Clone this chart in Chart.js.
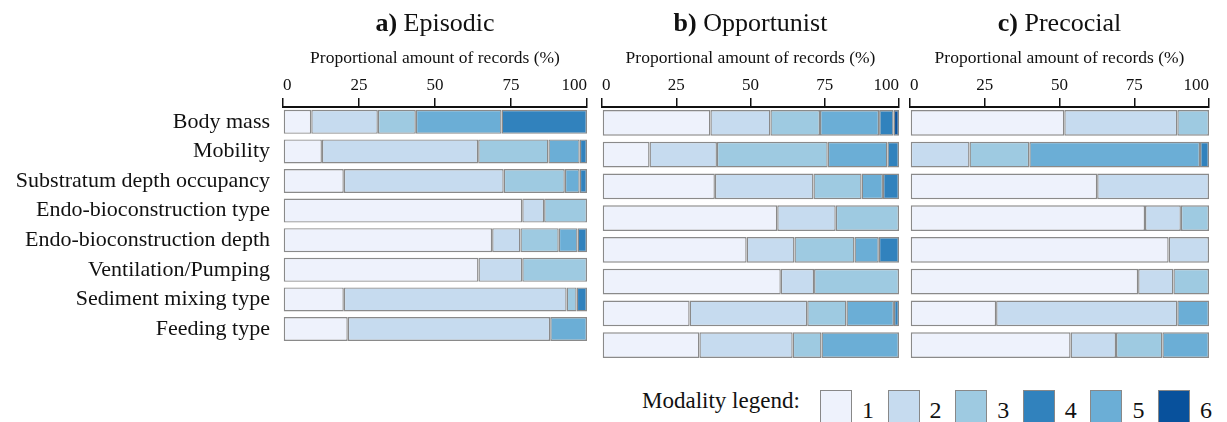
<!DOCTYPE html>
<html>
<head>
<meta charset="utf-8">
<title>Modality profiles</title>
<script src="https://cdn.jsdelivr.net/npm/chart.js@4.4.1/dist/chart.umd.min.js"></script>
<style>
    html, body {
        margin: 0;
        padding: 0;
        background: #ffffff;
        overflow: hidden;
        width: 1227px;
        height: 422px;
    }
    .panel {
        position: absolute;
        top: 0;
    }
    #legend {
        position: absolute;
        left: 0;
        top: 390px;
        width: 1227px;
        height: 40px;
        font-family: 'Liberation Serif', 'DejaVu Serif', serif;
        color: #111;
        white-space: nowrap;
    }
    #legend .label {
        position: absolute;
        top: -1px;
        font-size: 23px;
        line-height: 23px;
    }
    #legend .box {
        position: absolute;
        top: 0;
        width: 30px;
        height: 40px;
        border: 1px solid #888;
    }
    #legend .num {
        position: absolute;
        top: 8px;
        font-size: 24px;
        line-height: 24px;
    }
</style>
</head>
<body>
<canvas id="episodicChart" class="panel" width="620" height="370" style="left:0px"></canvas>
<canvas id="opportunistChart" class="panel" width="360" height="370" style="left:570px"></canvas>
<canvas id="precocialChart" class="panel" width="347" height="370" style="left:880px"></canvas>
<div id="legend"></div>

<script>
// Traits (rows, top to bottom)
const categories = [
    'Body mass',
    'Mobility',
    'Substratum depth occupancy',
    'Endo-bioconstruction type',
    'Endo-bioconstruction depth',
    'Ventilation/Pumping',
    'Sediment mixing type',
    'Feeding type'
];

const modalities = ['1', '2', '3', '4', '5', '6'];
const xTicks = [0, 25, 50, 75, 100];

// a) Episodic - % of records per modality
const episodic1 = [9.3, 12.8, 20.0, 78.7, 68.8, 64.3, 20.0, 21.3];
const episodic2 = [21.9, 51.4, 52.6, 7.2, 9.3, 14.4, 73.3, 66.6];
const episodic3 = [12.5, 23.1, 20.1, 14.1, 12.6, 21.3, 3.3, 0];
const episodic4 = [28.1, 2.4, 2.4, 0, 3.1, 0, 3.4, 0];
const episodic5 = [28.2, 10.3, 4.9, 0, 6.2, 0, 0, 12.1];
const episodic6 = [0, 0, 0, 0, 0, 0, 0, 0];

// b) Opportunist
const opportunist1 = [36.5, 16.0, 38.0, 59.0, 48.7, 60.2, 29.5, 32.8];
const opportunist2 = [20.2, 22.7, 33.2, 19.7, 16.1, 11.2, 39.6, 31.4];
const opportunist3 = [16.7, 37.3, 16.2, 21.3, 20.2, 28.6, 13.2, 9.7];
const opportunist4 = [4.9, 3.9, 5.4, 0, 6.8, 0, 1.7, 0];
const opportunist5 = [19.9, 20.1, 7.2, 0, 8.2, 0, 16.0, 26.1];
const opportunist6 = [1.8, 0, 0, 0, 0, 0, 0, 0];

// c) Precocial
const precocial1 = [51.6, 0, 62.6, 78.6, 86.5, 76.3, 28.8, 53.7];
const precocial2 = [37.8, 19.9, 37.4, 12.0, 13.5, 11.8, 60.6, 15.2];
const precocial3 = [10.6, 20.0, 0, 9.4, 0, 11.9, 0, 15.5];
const precocial4 = [0, 3.0, 0, 0, 0, 0, 0, 0];
const precocial5 = [0, 57.1, 0, 0, 0, 0, 10.6, 15.6];
const precocial6 = [0, 0, 0, 0, 0, 0, 0, 0];

// Colours per modality (legend order 1..6)
const modalityColors = ['#eef2fc', '#c6dbef', '#9ecae1', '#3182bd', '#6baed6', '#08519c'];
// Bars are stacked light to dark: 5 sits before 4
const stackOrder = [0, 1, 2, 4, 3, 5];

const serif = "'Liberation Serif', 'DejaVu Serif', serif";

/**
 * Draws "a) Episodic" style titles, bold prefix + normal name,
 * centred over the chart area
 */
const panelTitlePlugin = {
    id: 'panelTitle',
    afterDraw(chart, args, opts) {
        const { ctx, chartArea } = chart;
        ctx.save();
        ctx.fillStyle = '#111';
        ctx.textBaseline = 'alphabetic';
        ctx.textAlign = 'left';
        ctx.font = 'bold 26px ' + serif;
        const wBold = ctx.measureText(opts.prefix).width;
        ctx.font = '26px ' + serif;
        const wRest = ctx.measureText(opts.name).width;
        const cx = (chartArea.left + chartArea.right) / 2;
        const x0 = cx - (wBold + wRest) / 2;
        ctx.font = 'bold 26px ' + serif;
        ctx.fillText(opts.prefix, x0, 31);
        ctx.font = '26px ' + serif;
        ctx.fillText(opts.name, x0 + wBold, 31);
        ctx.restore();
    }
};

/**
 * Build one stacked horizontal bar panel
 */
function createPanel(id, series, prefix, name, showLabels, padLeft, padRight) {
    const ctx = document.getElementById(id).getContext('2d');

    const datasets = stackOrder.map(i => ({
        label: modalities[i],
        data: series[i].map(v => v || null),
        backgroundColor: modalityColors[i],
        borderColor: '#8a8a8a',
        borderWidth: 1.4,
        borderSkipped: false,
        barPercentage: 0.81,
        categoryPercentage: 1.0
    }));

    return new Chart(ctx, {
        type: 'bar',
        data: {
            labels: categories,
            datasets: datasets
        },
        plugins: [panelTitlePlugin],
        options: {
            indexAxis: 'y',
            responsive: false,
            animation: false,
            devicePixelRatio: 1,
            layout: {
                padding: { left: padLeft, right: padRight, top: 0, bottom: 9 }
            },
            plugins: {
                legend: { display: false },
                tooltip: { enabled: false },
                panelTitle: { prefix: prefix, name: name }
            },
            scales: {
                x: {
                    position: 'top',
                    stacked: true,
                    min: 0,
                    max: 100,
                    afterBuildTicks: (scale) => {
                        scale.ticks = xTicks.map(v => ({ value: v }));
                    },
                    afterFit: (scale) => {
                        scale.height = 107;
                    },
                    title: {
                        display: true,
                        text: 'Proportional amount of records (%)',
                        color: '#111',
                        font: { family: serif, size: 17.5 },
                        padding: { top: 48, bottom: 0 }
                    },
                    ticks: {
                        color: '#111',
                        padding: 2,
                        align: 'inner',
                        maxRotation: 0,
                        font: { family: serif, size: 17 }
                    },
                    grid: {
                        drawOnChartArea: false,
                        drawTicks: true,
                        tickLength: 9,
                        color: '#111',
                        lineWidth: 1.5
                    },
                    border: {
                        display: true,
                        color: '#111',
                        width: 2
                    }
                },
                y: {
                    stacked: true,
                    display: showLabels,
                    afterFit: (scale) => {
                        if (showLabels) scale.width = 283;
                    },
                    ticks: {
                        color: '#111',
                        padding: 13,
                        font: { family: serif, size: 22 }
                    },
                    grid: { display: false, drawTicks: false },
                    border: { display: false }
                }
            }
        }
    });
}

createPanel('episodicChart',
    [episodic1, episodic2, episodic3, episodic4, episodic5, episodic6],
    'a)', ' Episodic', true, 0, 33);
createPanel('opportunistChart',
    [opportunist1, opportunist2, opportunist3, opportunist4, opportunist5, opportunist6],
    'b)', ' Opportunist', false, 32, 31);
createPanel('precocialChart',
    [precocial1, precocial2, precocial3, precocial4, precocial5, precocial6],
    'c)', ' Precocial', false, 30, 18);

// Modality legend (bottom right)
const legend = document.getElementById('legend');
let html = '<span class="label" style="left:642px">Modality legend:</span>';
modalities.forEach((m, i) => {
    const x = 820 + i * 67.6;
    html += `<div class="box" style="left:${x}px;background:${modalityColors[i]}"></div>`;
    html += `<span class="num" style="left:${x + 42}px">${m}</span>`;
});
legend.innerHTML = html;
</script>
</body>
</html>
